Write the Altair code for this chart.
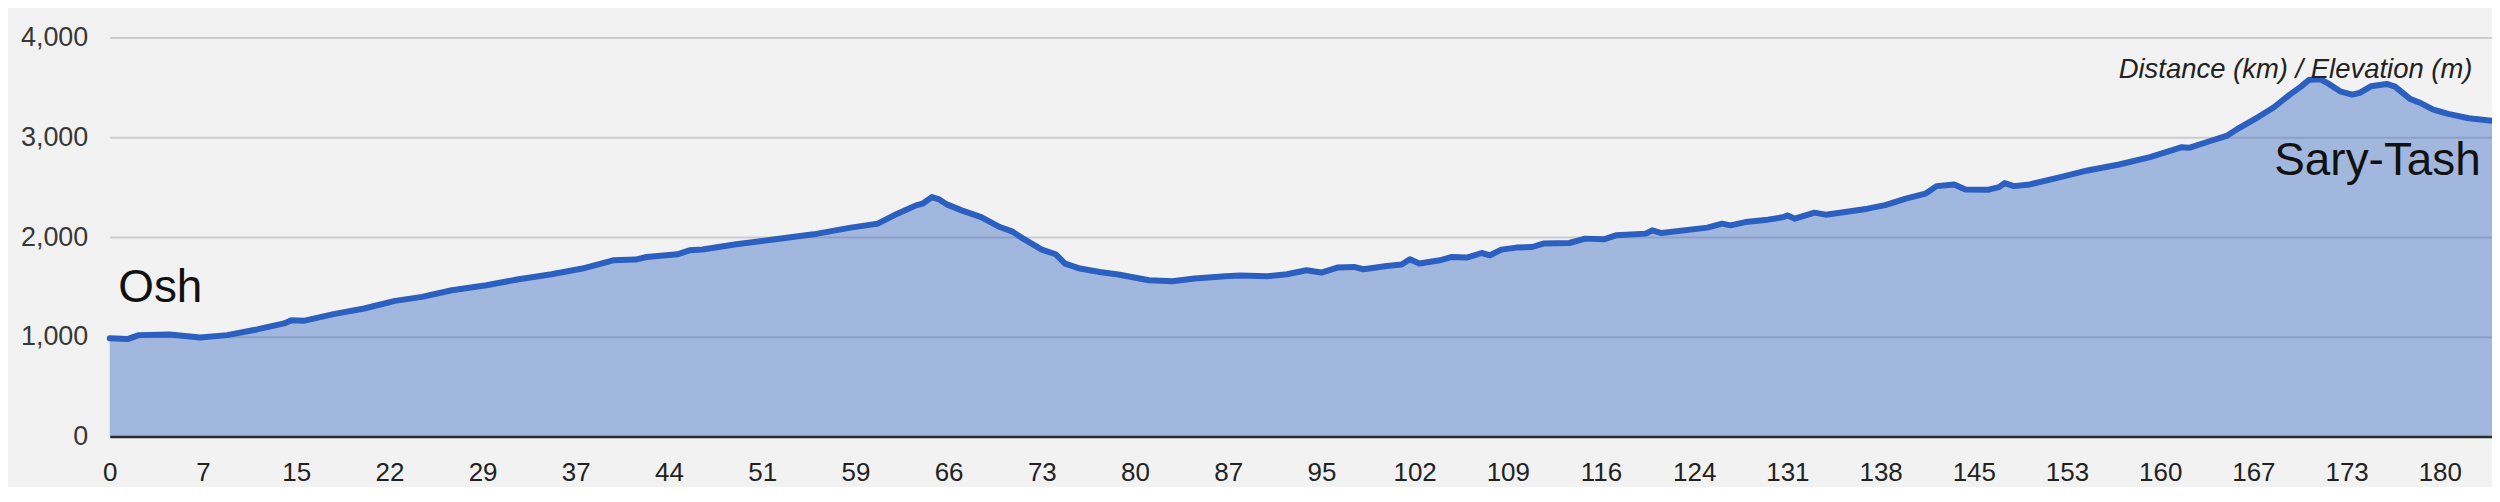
import json
import altair as alt
import pandas as pd

# Position along the x axis (in label-step units: 0 = "0", 25 = "180") and elevation (m)
pos = [0.00, 0.19, 0.31, 0.64, 0.97, 1.26, 1.58, 1.87, 1.95, 2.08, 2.40, 2.73, 3.06, 3.35,
       3.67, 4.04, 4.37, 4.74, 5.07, 5.40, 5.64, 5.76, 6.09, 6.22, 6.36, 6.72, 7.14, 7.55,
       7.95, 8.24, 8.45, 8.65, 8.72, 8.82, 8.90, 8.98, 9.14, 9.35, 9.55, 9.68, 9.80, 10.00,
       10.15, 10.25, 10.41, 10.62, 10.82, 11.15, 11.40, 11.64, 11.97, 12.13, 12.42, 12.63,
       12.84, 13.00, 13.17, 13.35, 13.45, 13.70, 13.86, 13.95, 14.05, 14.27, 14.40, 14.56,
       14.72, 14.81, 14.93, 15.09, 15.26, 15.38, 15.66, 15.83, 16.03, 16.16, 16.48, 16.55,
       16.65, 17.14, 17.30, 17.39, 17.55, 17.79, 17.96, 18.00, 18.08, 18.29, 18.41, 18.62,
       18.86, 19.05, 19.27, 19.48, 19.60, 19.79, 19.91, 20.16, 20.27, 20.33, 20.43, 20.60,
       20.93, 21.22, 21.56, 21.89, 22.14, 22.23, 22.31, 22.52, 22.72, 22.85, 23.06, 23.22,
       23.39, 23.51, 23.60, 23.72, 23.81, 23.93, 24.06, 24.14, 24.26, 24.43, 24.52, 24.68,
       24.80, 24.93, 25.09, 25.31, 25.56]
elev = [985, 977, 1017, 1024, 994, 1017, 1074, 1134, 1167, 1160, 1227, 1284, 1360, 1400,
        1467, 1517, 1574, 1627, 1684, 1767, 1774, 1800, 1827, 1867, 1875, 1927, 1977, 2027,
        2094, 2134, 2234, 2317, 2334, 2400, 2377, 2327, 2267, 2200, 2100, 2057, 1984, 1874,
        1827, 1734, 1684, 1650, 1624, 1567, 1557, 1584, 1607, 1614, 1607, 1627,
        1667, 1644, 1694, 1700, 1677, 1710, 1724, 1777, 1734, 1767, 1800, 1794,
        1840, 1817, 1874, 1894, 1900, 1934, 1940, 1984, 1977, 2017, 2034, 2067,
        2040, 2094, 2134, 2117, 2150, 2174, 2200, 2217, 2184, 2244, 2224, 2250,
        2284, 2320, 2384, 2434, 2510, 2527, 2477, 2474, 2500, 2540, 2510, 2527,
        2600, 2667, 2727, 2800, 2874, 2900, 2894, 2957, 3017, 3094, 3207, 3300,
        3427, 3507, 3577, 3580, 3534, 3460, 3427, 3444, 3510, 3534, 3507, 3384,
        3340, 3277, 3234, 3190, 3165]

tick_labels = ["0", "7", "15", "22", "29", "37", "44", "51", "59", "66", "73", "80", "87",
               "95", "102", "109", "116", "124", "131", "138", "145", "153", "160", "167",
               "173", "180"]
y_ticks = [0, 1000, 2000, 3000, 4000]

# Annotations (anchored in data coordinates)
start_name = ["Osh"]
start_pos = [0.09]
start_elev = [1347]
end_name = ["Sary-Tash"]
end_pos = [25.44]
end_elev = [2617]
units_text = ["Distance (km) / Elevation (m)"]
units_pos = [25.35]
units_elev = [3597]

LINE = "#2b5fc0"
FONT = "Liberation Sans"

df = pd.DataFrame({"pos": pos, "elev": elev})
label_expr = json.dumps(tick_labels) + "[datum.value]"

xscale = alt.Scale(domain=[0, 25.56], nice=False, zero=False)
yscale = alt.Scale(domain=[0, 4000], nice=False)

x_axis = alt.Axis(values=list(range(len(tick_labels))), labelExpr=label_expr,
                  grid=False, ticks=False, tickSize=0, labelPadding=23,
                  labelFontSize=26, labelColor="#222222", labelFont=FONT,
                  labelFlush=False, labelOverlap=False, labelBound=False,
                  domain=True, domainColor="#2a2a2a", domainWidth=2.5, zindex=1)
y_axis = alt.Axis(values=y_ticks, labelExpr="format(datum.value, ',')",
                  grid=True, gridColor="#cccccc",
                  gridWidth=2, ticks=False, tickSize=0, domain=False,
                  labelPadding=22, labelFontSize=27, labelColor="#383838",
                  labelFont=FONT, labelFlush=False, labelOverlap=False,
                  labelBound=False, zindex=0)

x_enc = alt.X("pos:Q", scale=xscale, title=None, axis=x_axis)
y_enc = alt.Y("elev:Q", scale=yscale, title=None, axis=y_axis)

area = alt.Chart(df).mark_area(color=LINE, fillOpacity=0.4, interpolate="linear").encode(
    x=x_enc, y=y_enc)
line = alt.Chart(df).mark_line(color=LINE, strokeWidth=6, interpolate="linear",
                               strokeJoin="round", strokeCap="round").encode(
    x=x_enc, y=y_enc)

def label_layer(names, p, e, **kw):
    d = pd.DataFrame({"name": names, "pos": p, "elev": e})
    return alt.Chart(d).mark_text(font=FONT, baseline="alphabetic", **kw).encode(
        x=x_enc, y=y_enc, text="name:N")

osh = label_layer(start_name, start_pos, start_elev, align="left", fontSize=46,
                  color="#111111")
sary = label_layer(end_name, end_pos, end_elev, align="right", fontSize=46,
                   color="#111111")
units = label_layer(units_text, units_pos, units_elev, align="right", fontSize=27.5,
                    fontStyle="italic", color="#222222")

chart = alt.layer(area, line, osh, sary, units).properties(
    width=2387, height=400,
    autosize=alt.AutoSizeParams(type="none"),
    padding={"left": 102, "top": 29, "right": 0, "bottom": 50},
    background="#f2f2f2",
).configure_view(stroke=None, fill="#f2f2f2")

chart.save("out.html", embed_options={"renderer": "svg", "actions": False})
